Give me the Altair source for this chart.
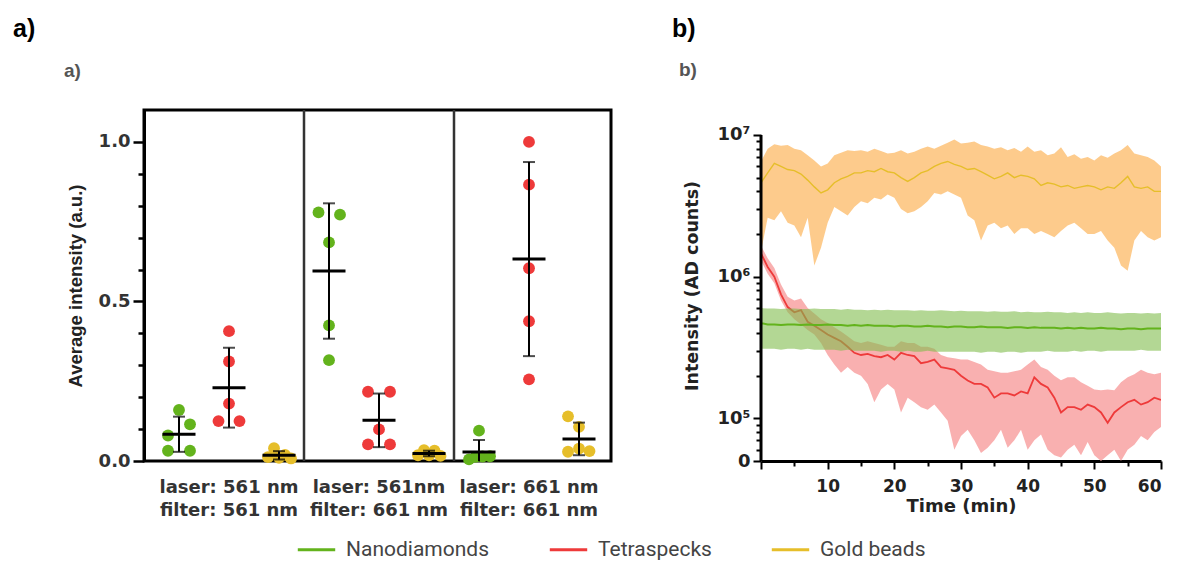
import altair as alt
import pandas as pd

# ---------------- shared categories ----------------
SERIES = ["Nanodiamonds", "Tetraspecks", "Gold beads"]
SERIES_COLORS = ["#63b31c", "#ee3a3a", "#e6be2a"]
CONDITIONS = ["laser: 561 nm\nfilter: 561 nm",
              "laser: 561nm\nfilter: 661 nm",
              "laser: 661 nm\nfilter: 661 nm"]

# ---------------- panel a: average intensity (a.u.) ----------------
g1_nano = [0.160, 0.115, 0.080, 0.032, 0.032]
g1_tetra = [0.407, 0.312, 0.180, 0.125, 0.125]
g1_gold = [0.040, 0.012, 0.019, 0.010, 0.008]
g2_nano = [0.779, 0.772, 0.685, 0.425, 0.316]
g2_tetra = [0.217, 0.217, 0.099, 0.052, 0.052]
g2_gold = [0.034, 0.032, 0.018, 0.018, 0.016]
g3_nano = [0.095, 0.005, 0.013, 0.014, 0.015]
g3_tetra = [1.000, 0.866, 0.604, 0.438, 0.256]
g3_gold = [0.140, 0.107, 0.029, 0.039, 0.031]

# horizontal dodge of each dot (category units)
g1_nano_dx = [0.0, 0.22, -0.22, -0.22, 0.22]
g1_tetra_dx = [0.0, 0.0, 0.0, -0.21, 0.21]
g1_gold_dx = [-0.10, -0.22, 0.12, 0.0, 0.24]
g2_nano_dx = [-0.21, 0.22, 0.0, 0.0, 0.0]
g2_tetra_dx = [-0.22, 0.22, 0.0, -0.22, 0.22]
g2_gold_dx = [-0.10, 0.11, -0.22, 0.0, 0.23]
g3_nano_dx = [0.0, -0.20, -0.07, 0.07, 0.22]
g3_tetra_dx = [0.0, 0.0, 0.0, 0.0, 0.0]
g3_gold_dx = [-0.22, 0.0, -0.22, 0.0, 0.21]

groups = [[g1_nano, g1_tetra, g1_gold],
          [g2_nano, g2_tetra, g2_gold],
          [g3_nano, g3_tetra, g3_gold]]
dodges = [[g1_nano_dx, g1_tetra_dx, g1_gold_dx],
          [g2_nano_dx, g2_tetra_dx, g2_gold_dx],
          [g3_nano_dx, g3_tetra_dx, g3_gold_dx]]

rows = []
for gi in range(3):
    for si in range(3):
        for v, d in zip(groups[gi][si], dodges[gi][si]):
            rows.append({"series": SERIES[si], "center": 3 * gi + si,
                         "xpos": 3 * gi + si + d, "value": v})
left_df = pd.DataFrame(rows)
cond_df = pd.DataFrame({"pos": [3 * gi + 1 for gi in range(3)], "label": CONDITIONS})
div_df = pd.DataFrame({"b": [3 * k - 0.5 for k in (1, 2)]})

# ---------------- panel b: intensity vs time ----------------
time_min = list(range(61))
gold_mean = [4.6, 5.4, 6.3, 6.0, 5.7, 5.6, 5.3, 4.8, 4.3, 3.9,
             4.1, 4.6, 4.9, 5.1, 5.4, 5.4, 5.6, 5.5, 5.8, 5.5,
             5.4, 5.0, 4.7, 5.0, 5.4, 5.6, 6.0, 6.3, 6.5, 6.2,
             6.0, 5.7, 5.8, 5.5, 5.2, 4.9, 5.1, 5.4, 5.0, 5.2,
             5.1, 4.9, 4.4, 4.6, 4.5, 4.3, 4.4, 4.2, 4.3, 4.4,
             4.3, 4.1, 4.3, 4.2, 4.6, 5.1, 4.3, 4.2, 4.3, 4.0,
             4.0]  # x 1e6
gold_hi = [6.5, 8.0, 8.6, 8.4, 8.5, 8.0, 7.8, 7.2, 6.6, 6.0,
           6.3, 7.2, 7.5, 7.8, 7.7, 7.8, 7.6, 8.0, 7.7, 7.4,
           7.5, 7.8, 7.4, 7.6, 8.0, 8.3, 8.0, 8.4, 8.8, 9.3,
           8.7, 8.8, 9.0, 8.5, 8.3, 8.0, 8.2, 7.8, 8.1, 7.6,
           8.3, 7.6, 7.8, 7.2, 7.4, 8.2, 7.0, 7.3, 6.8, 7.0,
           6.6, 7.2, 6.9, 7.4, 7.8, 8.5, 7.4, 7.2, 7.0, 6.6,
           6.0]  # x 1e6
gold_lo = [1.5, 2.6, 2.5, 2.9, 2.4, 2.3, 1.9, 2.6, 1.2, 1.6,
           2.4, 3.1, 2.9, 2.7, 3.1, 3.4, 3.3, 3.6, 3.5, 3.8,
           3.6, 3.0, 2.8, 2.9, 3.1, 3.4, 3.9, 3.8, 4.0, 3.8,
           3.6, 2.7, 2.5, 1.8, 2.3, 2.4, 2.2, 2.3, 2.0, 2.2,
           2.2, 2.0, 2.1, 2.0, 1.9, 2.1, 2.3, 2.4, 2.2, 2.0,
           2.0, 2.1, 1.8, 1.6, 1.2, 1.1, 1.8, 2.1, 1.9, 1.8,
           1.9]  # x 1e6
red_mean = [14.6, 11.7, 10.0, 7.5, 6.1, 5.6, 5.8, 4.8, 4.5, 4.2,
            3.9, 3.7, 3.5, 3.2, 2.9, 2.8, 2.85, 2.75, 2.7, 2.8,
            2.6, 2.9, 2.8, 2.75, 2.45, 2.5, 2.6, 2.3, 2.25, 2.2,
            2.0, 1.85, 1.75, 1.75, 1.65, 1.4, 1.5, 1.5, 1.45, 1.55,
            1.5, 1.95, 1.75, 1.65, 1.4, 1.1, 1.2, 1.2, 1.15, 1.25,
            1.2, 1.1, 0.93, 1.1, 1.2, 1.3, 1.35, 1.25, 1.3, 1.4,
            1.35]  # x 1e5
red_hi = [16.5, 13.5, 11.5, 8.8, 7.2, 6.8, 7.0, 6.0, 5.5, 5.0,
          4.7, 4.4, 4.1, 3.8, 3.5, 3.4, 3.5, 3.4, 3.3, 3.2,
          3.2, 3.5, 3.4, 3.4, 3.2, 3.2, 3.1, 2.8, 2.7, 2.65,
          2.6, 2.6, 2.5, 2.4, 2.2, 2.15, 2.1, 2.1, 2.15, 2.2,
          2.4, 2.6, 2.3, 2.2, 2.0, 1.86, 1.95, 1.95, 1.8, 1.7,
          1.6, 1.58, 1.6, 1.58, 1.8, 1.95, 2.05, 2.2, 2.1, 2.05,
          2.1]  # x 1e5
red_lo = [13.0, 10.5, 9.0, 6.8, 5.6, 5.0, 4.6, 4.2, 3.9, 3.4,
          2.8, 2.4, 2.1, 2.3, 2.1, 2.0, 1.75, 1.3, 1.6, 1.75,
          1.6, 1.1, 1.4, 1.3, 1.2, 1.15, 1.25, 1.1, 0.96, 0.6,
          0.75, 0.83, 0.7, 0.57, 0.62, 0.7, 0.83, 0.62, 0.7, 0.83,
          0.6, 0.7, 0.77, 0.6, 0.55, 0.53, 0.6, 0.65, 0.55, 0.68,
          0.55, 0.5, 0.55, 0.6, 0.5, 0.6, 0.65, 0.75, 0.7, 0.8,
          0.87]  # x 1e5
green_mean = [4.7, 4.6, 4.6, 4.55, 4.6, 4.6, 4.55, 4.6, 4.55, 4.55,
              4.6, 4.55, 4.55, 4.5, 4.55, 4.5, 4.55, 4.5, 4.5, 4.5,
              4.45, 4.5, 4.5, 4.45, 4.45, 4.5, 4.45, 4.45, 4.4, 4.45,
              4.45, 4.4, 4.4, 4.45, 4.4, 4.4, 4.4, 4.35, 4.4, 4.4,
              4.35, 4.4, 4.35, 4.35, 4.35, 4.3, 4.35, 4.3, 4.35, 4.3,
              4.3, 4.35, 4.3, 4.3, 4.25, 4.3, 4.3, 4.25, 4.3, 4.3,
              4.3]  # x 1e5
green_hi = [6.0, 5.95, 5.95, 5.9, 5.95, 5.95, 5.9, 5.9, 5.95, 5.9,
            5.9, 5.9, 5.85, 5.9, 5.85, 5.85, 5.8, 5.85, 5.8, 5.85,
            5.8, 5.8, 5.8, 5.75, 5.8, 5.75, 5.75, 5.8, 5.75, 5.7,
            5.75, 5.7, 5.7, 5.7, 5.65, 5.7, 5.65, 5.65, 5.7, 5.6,
            5.65, 5.6, 5.6, 5.65, 5.6, 5.6, 5.55, 5.6, 5.55, 5.6,
            5.55, 5.55, 5.6, 5.55, 5.5, 5.55, 5.55, 5.5, 5.55, 5.5,
            5.55]  # x 1e5
green_lo = [3.1, 3.1, 3.1, 3.05, 3.1, 3.1, 3.05, 3.1, 3.05, 3.05,
            3.05, 3.05, 3.0, 3.05, 3.0, 3.0, 3.0, 3.0, 2.95, 3.0,
            3.0, 2.95, 3.0, 2.95, 2.95, 3.0, 2.95, 2.95, 2.95, 2.95,
            2.95, 2.95, 2.95, 2.9, 2.95, 2.95, 2.9, 2.95, 2.95, 2.9,
            2.95, 2.95, 2.95, 3.0, 2.95, 2.95, 2.95, 3.0, 2.95, 3.0,
            3.0, 2.95, 3.0, 3.0, 3.0, 3.0, 3.0, 3.05, 3.0, 3.0,
            3.0]  # x 1e5

Y_TICKS = [5e4, 6e4, 7e4, 8e4, 9e4,
           1e5, 2e5, 3e5, 4e5, 5e5, 6e5, 7e5, 8e5, 9e5,
           1e6, 2e6, 3e6, 4e6, 5e6, 6e6, 7e6, 8e6, 9e6, 1e7]

series_data = {
    "Gold beads": (gold_mean, gold_lo, gold_hi, 1e6),
    "Tetraspecks": (red_mean, red_lo, red_hi, 1e5),
    "Nanodiamonds": (green_mean, green_lo, green_hi, 1e5),
}
trows = []
for name, (m, lo, hi, unit) in series_data.items():
    assert len(m) == len(lo) == len(hi) == len(time_min), name
    for t, a, b, c in zip(time_min, m, lo, hi):
        trows.append({"series": name, "t": t, "mean": a * unit,
                      "lo": max(b * unit, Y_TICKS[0]), "hi": c * unit})
right_df = pd.DataFrame(trows)
yaxis_line_df = pd.DataFrame({"lo": [Y_TICKS[0]], "hi": [Y_TICKS[-1]]})

# ---------------- styling ----------------
BOLD_H = "DejaVu Sans"
BOLD_V = "Liberation Sans"
color_scale = alt.Scale(domain=SERIES, range=SERIES_COLORS)

# ---------------- panel a chart ----------------
xs = alt.Scale(domain=[-0.7, 8.64], nice=False, zero=False)
ys = alt.Scale(domain=[0, 1.1], nice=False)
left_ticks = [round(0.1 * i, 1) for i in range(11)]
ytitle = "Average intensity (a.u.)"
LEFT_MAJOR = "datum.value == 0 || datum.value == 0.5 || datum.value == 1"

left_axis = alt.Axis(
    values=left_ticks, tickCount=40,
    labelExpr="(" + LEFT_MAJOR + ") ? format(datum.value, '.1f') : ''",
    labelOverlap=False,
    tickSize={"condition": {"test": LEFT_MAJOR, "value": 11}, "value": 6},
    tickWidth=2.5, tickColor="black", domainColor="black", domainWidth=3,
    labelFont=BOLD_H, labelFontWeight="bold", labelFontSize=18, labelColor="#333",
    labelPadding=3, grid=False,
    titleFont=BOLD_V, titleFontWeight="bold", titleFontSize=18.5, titleColor="#222",
    titlePadding=13,
)

base_left = alt.Chart(left_df)
dividers = alt.Chart(div_df).mark_rule(color="#333", strokeWidth=2.5).encode(
    x=alt.X("b:Q", scale=xs, axis=None))
points = base_left.mark_circle(size=140, opacity=1).encode(
    x=alt.X("xpos:Q", scale=xs, axis=None),
    y=alt.Y("value:Q", scale=ys, axis=left_axis, title=ytitle),
    color=alt.Color("series:N", scale=color_scale),
)
errbars = base_left.mark_errorbar(extent="stdev", ticks=True, size=12, thickness=2,
                                  color="black", orient="vertical", clip=True).encode(
    x=alt.X("center:Q", scale=xs, axis=None),
    y=alt.Y("value:Q", scale=ys, title=ytitle),
)
means = base_left.mark_tick(orient="horizontal", size=33, thickness=3, color="black").encode(
    x=alt.X("center:Q", scale=xs, axis=None),
    y=alt.Y("mean(value):Q", scale=ys, title=ytitle),
)
cond_labels = alt.Chart(cond_df).mark_text(
    lineBreak="\n", lineHeight=23, font=BOLD_H, fontWeight="bold", fontSize=18,
    color="#333", baseline="alphabetic", align="center").encode(
    x=alt.X("pos:Q", scale=xs, axis=None),
    y=alt.value(351 + 32),
    text="label:N",
)
head_a = alt.Chart(pd.DataFrame({"s": ["a)"]})).mark_text(
    font=BOLD_V, fontWeight="bold", fontSize=25, color="black", align="left",
    baseline="alphabetic").encode(x=alt.value(-131), y=alt.value(-73), text="s:N")
sub_a = alt.Chart(pd.DataFrame({"s": ["a)"]})).mark_text(
    font=BOLD_V, fontWeight="bold", fontSize=19, color="#555", align="left",
    baseline="alphabetic").encode(x=alt.value(-80), y=alt.value(-33), text="s:N")

left = alt.layer(dividers, points, errbars, means, cond_labels, head_a, sub_a).properties(
    width=467, height=351,
    view=alt.ViewBackground(stroke="black", strokeWidth=3),
)

# ---------------- panel b chart ----------------
tx = alt.Scale(domain=[0, 60], nice=False, zero=False)
# plot area is as tall as panel a; the axis itself stops at 10^7
ty = alt.Scale(type="log", domain=[5e4, 1.5e7], nice=False)

x_axis = alt.Axis(
    values=list(range(0, 61, 5)), tickCount=40,
    labelExpr="(datum.value > 0 && datum.value % 10 == 0) ? datum.value : ''",
    labelOverlap=False,
    tickSize={"condition": {"test": "datum.value % 10 == 0", "value": 8}, "value": 5},
    tickWidth=2, tickColor="black", domainColor="black", domainWidth=3,
    labelFont=BOLD_H, labelFontWeight="bold", labelFontSize=17, labelColor="#222",
    labelPadding=9, grid=False,
    titleFont=BOLD_H, titleFontWeight="bold", titleFontSize=18, titleColor="#222",
    titlePadding=3,
)
MAJOR_TEST = "datum.value == 50000 || datum.value == 100000 || datum.value == 1000000 || datum.value == 10000000"
y_axis = alt.Axis(
    values=Y_TICKS, tickCount=60,
    labelExpr="datum.value == 10000000 ? '10⁷' : datum.value == 1000000 ? '10⁶' : datum.value == 100000 ? '10⁵' : datum.value == 50000 ? '0' : ''",
    labelOverlap=False,
    tickSize={"condition": {"test": MAJOR_TEST, "value": 8}, "value": 5},
    tickWidth=2, tickColor="black", domain=False,
    labelFont=BOLD_H, labelFontWeight="bold", labelFontSize=18, labelColor="#222",
    labelPadding=3, grid=False,
    titleFont=BOLD_H, titleFontWeight="bold", titleFontSize=17.5, titleColor="#222",
    titlePadding=16,
)
ytitle_b = "Intensity (AD counts)"
xtitle_b = "Time (min)"

legend = alt.Legend(
    title=None, orient="none", legendX=152, legendY=419, direction="horizontal",
    symbolType="stroke", symbolStrokeWidth=3, symbolSize=1400,
    labelFont="Roboto", labelFontSize=21, labelColor="#444", labelOffset=9,
    columnPadding=53,
)

band_colors = {"Gold beads": ("#fdc886", 0.95), "Tetraspecks": ("#f8a2a2", 0.85),
               "Nanodiamonds": ("#80bd4c", 0.6)}
line_widths = {"Gold beads": 1.4, "Tetraspecks": 1.8, "Nanodiamonds": 2.0}

base_right = alt.Chart(right_df)
layers_b = []
for name in ["Gold beads", "Tetraspecks", "Nanodiamonds"]:
    bc, bo = band_colors[name]
    area = base_right.transform_filter(alt.datum.series == name).mark_area(
        color=bc, opacity=bo, clip=True).encode(
        x=alt.X("t:Q", scale=tx, axis=x_axis, title=xtitle_b),
        y=alt.Y("lo:Q", scale=ty, axis=y_axis, title=ytitle_b),
        y2="hi:Q",
    )
    line = base_right.transform_filter(alt.datum.series == name).mark_line(
        strokeWidth=line_widths[name], clip=True).encode(
        x=alt.X("t:Q", scale=tx, title=xtitle_b),
        y=alt.Y("mean:Q", scale=ty, title=ytitle_b),
        color=alt.Color("series:N", scale=color_scale, legend=legend),
    )
    layers_b += [area, line]

yaxis_line = alt.Chart(yaxis_line_df).mark_rule(color="black", strokeWidth=3).encode(
    x=alt.value(0),
    y=alt.Y("lo:Q", scale=ty, title=ytitle_b),
    y2="hi:Q",
)

head_b = alt.Chart(pd.DataFrame({"s": ["b)"]})).mark_text(
    font=BOLD_V, fontWeight="bold", fontSize=25, color="black", align="left",
    baseline="alphabetic").encode(x=alt.value(-89), y=alt.value(-73), text="s:N")
sub_b = alt.Chart(pd.DataFrame({"s": ["b)"]})).mark_text(
    font=BOLD_V, fontWeight="bold", fontSize=19, color="#555", align="left",
    baseline="alphabetic").encode(x=alt.value(-82), y=alt.value(-34), text="s:N")

right = alt.layer(*layers_b, yaxis_line, head_b, sub_b).properties(
    width=400, height=351,
    view=alt.ViewBackground(stroke="transparent"),
)

chart = alt.hconcat(left, right, spacing=58).properties(
    padding={"left": 11, "top": 15, "right": 0, "bottom": 0},
    background="white",
)

chart.save("out.html", embed_options={"renderer": "svg", "actions": False})
